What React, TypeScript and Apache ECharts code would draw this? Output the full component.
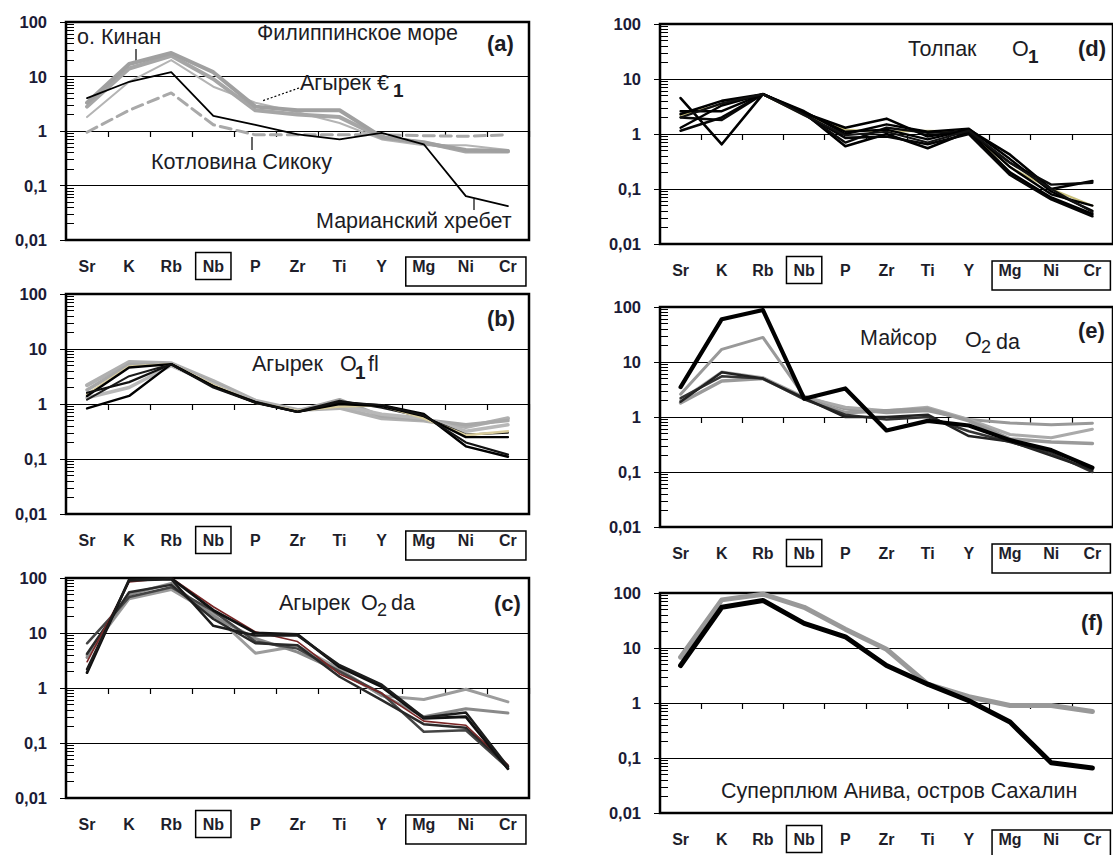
import { useEffect, useRef } from "react";
import * as echarts from "echarts";

// Elements along the x axis (primitive-mantle normalised spectra)
const elements = ["Sr", "K", "Rb", "Nb", "P", "Zr", "Ti", "Y", "Mg", "Ni", "Cr"];
const boxedSingle = ["Nb"];
const yTickLabels = ["0,01", "0,1", "1", "10", "100"];
const minorMantissas = [2, 3, 4, 5, 6, 7, 8, 9];
const decades = [0.01, 0.1, 1, 10];

// (a) Philippine Sea reference spectra
const aKinan1 = [3.3, 17, 27, 12, 2.8, 2.4, 2.4, 0.78, 0.6, 0.45, 0.43];
const aKinan2 = [2.8, 14, 24, 9, 2.4, 2.0, 1.8, 0.75, 0.62, 0.42, 0.42];
const aAgyrek = [1.8, 8, 20, 6.5, 3.3, 2.2, 1.4, 0.7, 0.55, 0.55, 0.45];
const aShikoku = [0.95, 2.4, 5, 1.3, 0.85, 0.85, 0.85, 0.85, 0.82, 0.8, 0.85];
const aMariana = [4, 8, 12, 1.9, 1.3, 0.87, 0.7, 0.92, 0.57, 0.064, 0.042];

// (b) Агырек O1 fl
const bGray1 = [2.2, 5.8, 5.5, 2.6, 1.15, 0.78, 0.85, 0.55, 0.5, 0.38, 0.55];
const bGray2 = [1.8, 5.2, 5.2, 2.4, 1.1, 0.75, 1.2, 0.6, 0.52, 0.42, 0.5];
const bGray3 = [1.3, 2.0, 5.0, 2.3, 1.1, 0.75, 0.95, 0.65, 0.55, 0.32, 0.42];
const bBeige = [1.5, 4.8, 5.3, 2.2, 1.05, 0.75, 0.9, 0.95, 0.55, 0.27, 0.32];
const bBlack1 = [0.83, 1.4, 5.3, 2.1, 1.07, 0.72, 1.05, 0.95, 0.66, 0.17, 0.11];
const bBlack2 = [1.4, 4.6, 5.3, 2.1, 1.07, 0.72, 1.0, 0.92, 0.6, 0.25, 0.25];
const bBlack3 = [1.2, 3.2, 5.3, 2.1, 1.1, 0.73, 1.15, 0.85, 0.58, 0.28, 0.3];
const bBlack4 = [1.6, 2.5, 5.3, 2.0, 1.05, 0.72, 1.1, 0.95, 0.62, 0.2, 0.12];

// (c) Агырек O2 da
const cGray1 = [4, 42, 62, 22, 4.3, 5.8, 2.2, 0.72, 0.62, 0.95, 0.56];
const cGray2 = [3.6, 50, 80, 20, 8, 4.5, 2.0, 0.75, 0.3, 0.42, 0.35];
const cDark = [6.5, 45, 68, 25, 7, 5.2, 2.0, 0.8, 0.16, 0.17, 0.035];
const cRed = [3, 85, 100, 30, 10.5, 7, 1.8, 0.8, 0.25, 0.21, 0.04];
const cBlack1 = [1.9, 93, 98, 26, 10, 9.4, 2.4, 1.05, 0.28, 0.3, 0.034];
const cBlack2 = [2.2, 90, 95, 13.5, 9, 9, 2.6, 1.15, 0.29, 0.36, 0.037];
const cBlack3 = [4.2, 55, 75, 18, 6.5, 6, 1.6, 0.6, 0.22, 0.19, 0.038];

// (d) Толпак O1
const d1 = [4.5, 0.65, 5.3, 2.4, 0.6, 1.0, 0.55, 1.1, 0.2, 0.07, 0.035];
const d2 = [2.3, 4.0, 5.3, 2.4, 1.3, 1.9, 0.9, 1.2, 0.42, 0.1, 0.14];
const d3 = [2.0, 1.8, 5.3, 2.3, 0.7, 1.3, 1.05, 1.1, 0.3, 0.12, 0.13];
const d4 = [1.3, 3.3, 5.3, 2.5, 1.1, 1.2, 0.8, 1.2, 0.25, 0.08, 0.05];
const d5 = [1.15, 2.0, 5.3, 2.3, 0.85, 0.9, 0.65, 1.0, 0.18, 0.065, 0.032];
const d6 = [2.6, 2.6, 5.3, 2.6, 1.0, 1.5, 1.1, 1.25, 0.35, 0.09, 0.04];
const d7 = [2.0, 3.6, 5.3, 2.2, 0.95, 1.1, 0.7, 1.15, 0.3, 0.1, 0.038];
const dBeige = [2.2, 3.5, 5.2, 2.2, 1.2, 1.1, 1.15, 1.1, 0.25, 0.1, 0.05];

// (e) Майсор O2 da
const eGrayMid = [2.6, 17, 28, 2.4, 1.4, 1.2, 1.3, 0.9, 0.78, 0.72, 0.77];
const eGray2 = [2.0, 6.6, 5.2, 2.3, 1.5, 1.3, 1.5, 0.9, 0.48, 0.42, 0.6];
const eGray3 = [1.8, 4.5, 5.0, 2.2, 1.2, 1.3, 1.4, 0.85, 0.4, 0.35, 0.33];
const eDark1 = [2.2, 5.5, 5.0, 2.1, 1.1, 0.9, 1.0, 0.55, 0.35, 0.22, 0.1];
const eDark2 = [1.9, 6.5, 5.0, 2.2, 1.0, 1.0, 1.1, 0.45, 0.36, 0.2, 0.11];
const eThick = [3.5, 60, 88, 2.15, 3.3, 0.57, 0.85, 0.7, 0.38, 0.25, 0.12];

// (f) Anivа superplume, Sakhalin
const fGray = [6.8, 75, 95, 55, 22, 9.5, 2.2, 1.3, 0.9, 0.9, 0.7];
const fBlack = [4.8, 55, 73, 28, 16, 4.8, 2.2, 1.1, 0.45, 0.082, 0.066];

const FONT = "'Liberation Sans', Arial, sans-serif";
const COL_LEFT = [66, 660];
const COL_WIDTH = [463, 459];
const Y_MIN = 0.01;
const Y_MAX = 100;

type LineDef = { data: number[]; color: string; width: number; dash?: number[] };
type Panel = { col: number; top: number; height: number; lines: LineDef[] };

const panels: Panel[] = [
  {
    col: 0, top: 22, height: 218,
    lines: [
      { data: aShikoku, color: "#a9a9a9", width: 3, dash: [11, 6] },
      { data: aAgyrek, color: "#b4b4b4", width: 2 },
      { data: aKinan2, color: "#a6a6a6", width: 4 },
      { data: aKinan1, color: "#a0a0a0", width: 4 },
      { data: aMariana, color: "#000000", width: 1.8 },
    ],
  },
  {
    col: 0, top: 294, height: 220,
    lines: [
      { data: bGray1, color: "#b0b0b0", width: 4 },
      { data: bGray2, color: "#a8a8a8", width: 3.5 },
      { data: bGray3, color: "#b8b8b8", width: 3.5 },
      { data: bBlack3, color: "#1a1a1a", width: 2 },
      { data: bBeige, color: "#d8cc9c", width: 2.5 },
      { data: bBlack1, color: "#000000", width: 2.4 },
      { data: bBlack2, color: "#000000", width: 2.4 },
      { data: bBlack4, color: "#111111", width: 2.2 },
    ],
  },
  {
    col: 0, top: 578, height: 220,
    lines: [
      { data: cGray1, color: "#9c9c9c", width: 3 },
      { data: cGray2, color: "#8a8a8a", width: 3 },
      { data: cDark, color: "#444444", width: 2.5 },
      { data: cBlack3, color: "#2a2a2a", width: 2.5 },
      { data: cRed, color: "#7a2626", width: 1.6 },
      { data: cBlack1, color: "#111111", width: 2.8 },
      { data: cBlack2, color: "#1c1c1c", width: 2.5 },
    ],
  },
  {
    col: 1, top: 24, height: 220,
    lines: [
      { data: dBeige, color: "#c9bf7a", width: 2 },
      { data: d1, color: "#000000", width: 2.6 },
      { data: d2, color: "#000000", width: 2.6 },
      { data: d3, color: "#0a0a0a", width: 2.4 },
      { data: d4, color: "#000000", width: 2.4 },
      { data: d5, color: "#050505", width: 2.6 },
      { data: d6, color: "#000000", width: 2.4 },
      { data: d7, color: "#111111", width: 2.2 },
    ],
  },
  {
    col: 1, top: 307, height: 220,
    lines: [
      { data: eGrayMid, color: "#999999", width: 3 },
      { data: eGray2, color: "#aaaaaa", width: 3 },
      { data: eGray3, color: "#9a9a9a", width: 3.5 },
      { data: eDark1, color: "#333333", width: 2.5 },
      { data: eDark2, color: "#222222", width: 2.5 },
      { data: eThick, color: "#000000", width: 4.2 },
    ],
  },
  {
    col: 1, top: 593, height: 220,
    lines: [
      { data: fGray, color: "#999999", width: 5 },
      { data: fBlack, color: "#000000", width: 5 },
    ],
  },
];

type Label = { t: string; x: number; y: number; size?: number; bold?: boolean };

const CAP = 21.5;

// Panel captions and annotations (page coordinates)
const captions: Label[] = [
  { t: "о. Кинан", x: 77, y: 37 },
  { t: "Филиппинское море", x: 257, y: 33 },
  { t: "(a)", x: 487, y: 43, size: 22, bold: true },
  { t: "Агырек €", x: 300, y: 83 },
  { t: "1", x: 393, y: 90, size: 19, bold: true },
  { t: "Котловина Сикоку", x: 151, y: 162 },
  { t: "Марианский хребет", x: 316, y: 221 },

  { t: "Агырек", x: 252, y: 364 },
  { t: "O", x: 340, y: 364 },
  { t: "1", x: 355, y: 372, size: 19, bold: true },
  { t: "fl", x: 368, y: 364 },
  { t: "(b)", x: 487, y: 318, size: 22, bold: true },

  { t: "Агырек", x: 279, y: 603 },
  { t: "O", x: 361, y: 603 },
  { t: "2", x: 377, y: 610, size: 18 },
  { t: "da", x: 391, y: 603 },
  { t: "(c)", x: 494, y: 603, size: 22, bold: true },

  { t: "Толпак", x: 908, y: 49 },
  { t: "O", x: 1012, y: 49 },
  { t: "1", x: 1028, y: 56, size: 19, bold: true },
  { t: "(d)", x: 1078, y: 48, size: 22, bold: true },

  { t: "Майсор", x: 860, y: 338 },
  { t: "O", x: 965, y: 340 },
  { t: "2", x: 981, y: 347, size: 18 },
  { t: "da", x: 996, y: 342 },
  { t: "(e)", x: 1078, y: 330, size: 22, bold: true },

  { t: "(f)", x: 1081, y: 622, size: 22, bold: true },
  { t: "Суперплюм Анива, остров Сахалин", x: 721, y: 791 },
];

// Leader lines from labels to curves (page coordinates)
const leaders = [
  { x1: 136, y1: 49, x2: 136, y2: 61, dash: false },
  { x1: 299, y1: 88, x2: 262, y2: 101, dash: true },
  { x1: 252, y1: 137, x2: 252, y2: 150, dash: false },
  { x1: 474, y1: 199, x2: 474, y2: 210, dash: false },
];

export default function App() {
  const ref = useRef<HTMLDivElement>(null);

  useEffect(() => {
    if (!ref.current) return;
    const chart = echarts.init(ref.current, undefined, { renderer: "svg" });

    const minorValues: number[] = [];
    decades.forEach((d) => minorMantissas.forEach((m) => minorValues.push(m * d)));
    const logMin = Math.log10(Y_MIN);
    const logMax = Math.log10(Y_MAX);
    const minorLogs = minorValues.map((v) => Math.log10(v));

    const grid = panels.map((p) => ({
      left: COL_LEFT[p.col],
      top: p.top,
      width: COL_WIDTH[p.col],
      height: p.height,
      show: true,
      borderColor: "#000",
      borderWidth: 2.5,
      backgroundColor: "transparent",
    }));

    const labelBase = {
      fontFamily: FONT, fontSize: 16, fontWeight: "bold", color: "#1e1e2a",
      lineHeight: 18, padding: [6, 7, 5, 7],
    };

    const xAxis: any[] = panels.map((_, i) => ({
      type: "category",
      gridIndex: i,
      position: "bottom",
      data: elements,
      boundaryGap: true,
      axisLine: { show: false },
      axisTick: { show: false },
      splitLine: { show: false },
      axisLabel: {
        interval: 0,
        margin: 17,
        formatter: (v: string) => (boxedSingle.includes(v) ? `{b|${v}}` : `{n|${v}}`),
        rich: {
          n: { ...labelBase },
          b: { ...labelBase, borderColor: "#000", borderWidth: 1.5 },
        },
      },
    }));
    // tick-only category axes lifted to the "1" line (the middle of the log range)
    panels.forEach((p, i) => {
      xAxis.push({
        type: "category",
        gridIndex: i,
        position: "bottom",
        offset: -p.height * (0 - logMin) / (logMax - logMin),
        data: elements,
        boundaryGap: true,
        axisLine: { show: false, onZero: false },
        axisLabel: { show: false },
        splitLine: { show: false },
        axisTick: { show: true, inside: false, length: 6, lineStyle: { color: "#000", width: 1.2 } },
      });
    });

    const yAxis: any[] = panels.map((_, i) => ({
      type: "log",
      logBase: 10,
      gridIndex: i,
      position: "left",
      min: Y_MIN,
      max: Y_MAX,
      axisLine: { show: true, lineStyle: { color: "#000", width: 2 } },
      axisTick: { show: true, inside: false, length: 6, lineStyle: { color: "#000", width: 1 } },
      splitLine: { show: true, lineStyle: { color: "#000", width: 1 } },
      axisLabel: {
        margin: 19,
        fontFamily: FONT,
        fontSize: 16.5,
        fontWeight: "bold",
        color: "#1b1b36",
        formatter: (v: number) => yTickLabels[Math.round(Math.log10(v)) + 2],
      },
    }));
    // tick-only axes in log10 units carrying the 2..9 minor ticks inside the frame
    panels.forEach((_, i) => {
      yAxis.push({
        type: "value",
        gridIndex: i,
        position: "left",
        min: logMin,
        max: logMax,
        axisLine: { show: false, onZero: false },
        axisLabel: { show: false },
        splitLine: { show: false },
        axisTick: {
          show: true,
          inside: true,
          length: 8,
          customValues: minorLogs,
          lineStyle: { color: "#000", width: 1 },
        },
      });
    });

    const series: any[] = [];
    panels.forEach((p, i) => {
      p.lines.forEach((l, k) => {
        series.push({
          type: "line",
          xAxisIndex: i,
          yAxisIndex: i,
          data: l.data,
          showSymbol: false,
          symbol: "none",
          silent: true,
          z: 3 + k * 0.01,
          lineStyle: {
            color: l.color,
            width: l.width,
            type: l.dash ? l.dash : "solid",
            cap: "round",
            join: "round",
          },
        });
      });
    });

    chart.setOption({
      animation: false,
      backgroundColor: "#ffffff",
      grid,
      xAxis,
      yAxis,
      series,
    });

    const graphic: any[] = [];
    panels.forEach((p, i) => {
      // box around the Mg–Ni–Cr label group
      const mg = chart.convertToPixel({ xAxisIndex: i }, "Mg") as number;
      const cr = chart.convertToPixel({ xAxisIndex: i }, "Cr") as number;
      const bottom = p.top + p.height;
      graphic.push({
        type: "rect",
        id: `group-${i}`,
        shape: { x: mg - 18, y: bottom + 17, width: cr - mg + 36, height: 29 },
        style: { fill: "none", stroke: "#000", lineWidth: 1.5 },
      });
    });
    captions.forEach((c, n) => {
      graphic.push({
        type: "text",
        id: `cap-${n}`,
        x: c.x,
        y: c.y,
        style: {
          text: c.t,
          fontFamily: FONT,
          fontSize: c.size ?? CAP,
          fontWeight: c.bold ? "bold" : "normal",
          fill: "#1c1c24",
          align: "left",
          verticalAlign: "middle",
        },
      });
    });
    leaders.forEach((l, n) => {
      graphic.push({
        type: "line",
        id: `lead-${n}`,
        shape: { x1: l.x1, y1: l.y1, x2: l.x2, y2: l.y2 },
        style: { stroke: "#000", lineWidth: 1.2, lineDash: l.dash ? [2, 2] : null },
      });
    });
    chart.setOption({ graphic });

    return () => chart.dispose();
  }, []);

  return (
    <div
      ref={ref}
      style={{ position: "absolute", left: 0, top: 0, width: 1113, height: 855, background: "#fff" }}
    />
  );
}
